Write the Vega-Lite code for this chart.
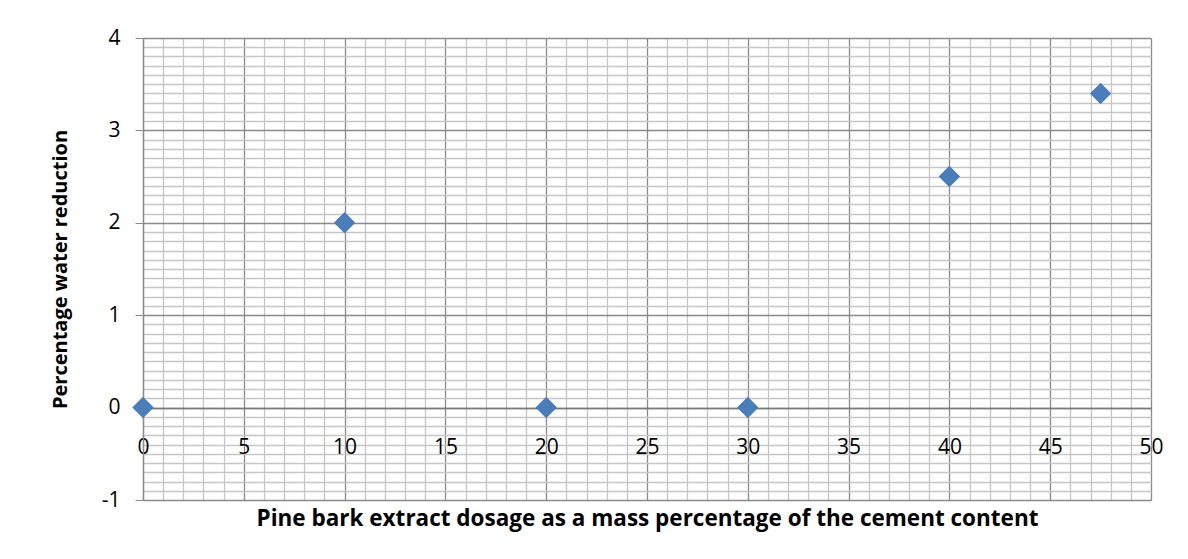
{
  "$schema": "https://vega.github.io/schema/vega-lite/v6.json",
  "width": 1008,
  "height": 462,
  "autosize": {"type": "none"},
  "padding": {"left": 143, "top": 38, "right": 37, "bottom": 59},
  "background": "white",
  "config": {
    "font": "Open Sans",
    "view": {"stroke": null},
    "axis": {"labelFont": "Open Sans", "titleFont": "Open Sans"}
  },
  "data": {
    "values": [
      {"dosage": 0, "reduction": 0},
      {"dosage": 10, "reduction": 2},
      {"dosage": 20, "reduction": 0},
      {"dosage": 30, "reduction": 0},
      {"dosage": 40, "reduction": 2.5},
      {"dosage": 47.5, "reduction": 3.4}
    ]
  },
  "resolve": {"axis": {"x": "independent"}},
  "layer": [
    {
      "mark": {"type": "point", "shape": "diamond", "filled": true, "size": 440, "color": "#4A7EBB", "opacity": 1},
      "encoding": {
        "x": {
          "field": "dosage",
          "type": "quantitative",
          "scale": {"domain": [0, 50], "nice": false, "zero": false},
          "axis": {
            "orient": "bottom",
            "tickCount": 50,
            "grid": true,
            "gridColor": {"condition": {"test": "datum.value % 5 === 0", "value": "#8a8a8a"}, "value": "#c6c6c6"},
            "gridWidth": 1.3,
            "labels": false,
            "ticks": false,
            "domain": true,
            "domainColor": "#8a8a8a",
            "title": null
          }
        },
        "y": {
          "field": "reduction",
          "type": "quantitative",
          "scale": {"domain": [-1, 4], "nice": false, "zero": false},
          "axis": {
            "tickCount": 50,
            "grid": true,
            "gridColor": {"condition": {"test": "abs(datum.value - round(datum.value)) < 0.001", "value": "#8a8a8a"}, "value": "#c6c6c6"},
            "gridWidth": 1.3,
            "ticks": true,
            "tickSize": 8,
            "tickColor": "#8a8a8a",
            "tickOpacity": {"condition": {"test": "abs(datum.value - round(datum.value)) < 0.001", "value": 1}, "value": 0},
            "domain": true,
            "domainColor": "#8a8a8a",
            "domainWidth": 1.3,
            "labelExpr": "abs(datum.value - round(datum.value)) < 0.001 ? '' + round(datum.value) : ''",
            "labelFontSize": 21,
            "labelColor": "#000000",
            "labelPadding": 15,
            "title": "Percentage water reduction",
            "titleFontSize": 20,
            "titleFontWeight": "bold",
            "titleColor": "#000000",
            "titlePadding": 31
          }
        }
      }
    },
    {
      "mark": {"type": "point", "shape": "diamond", "filled": true, "size": 440, "color": "#4A7EBB", "opacity": 1},
      "encoding": {
        "x": {
          "field": "dosage",
          "type": "quantitative",
          "axis": {
            "orient": "bottom",
            "offset": -92,
            "values": [0, 5, 10, 15, 20, 25, 30, 35, 40, 45, 50],
            "grid": false,
            "ticks": false,
            "domain": true,
            "domainColor": "#7a7a7a",
            "domainWidth": 1.5,
            "labelFontSize": 21,
            "labelColor": "#000000",
            "labelPadding": 28,
            "labelFlush": false,
            "title": "Pine bark extract dosage as a mass percentage of the cement content",
            "titleFontSize": 22.5,
            "titleFontWeight": "bold",
            "titleColor": "#000000",
            "titlePadding": 50,
            "titleLimit": 1100
          }
        },
        "y": {"field": "reduction", "type": "quantitative"}
      }
    }
  ]
}
